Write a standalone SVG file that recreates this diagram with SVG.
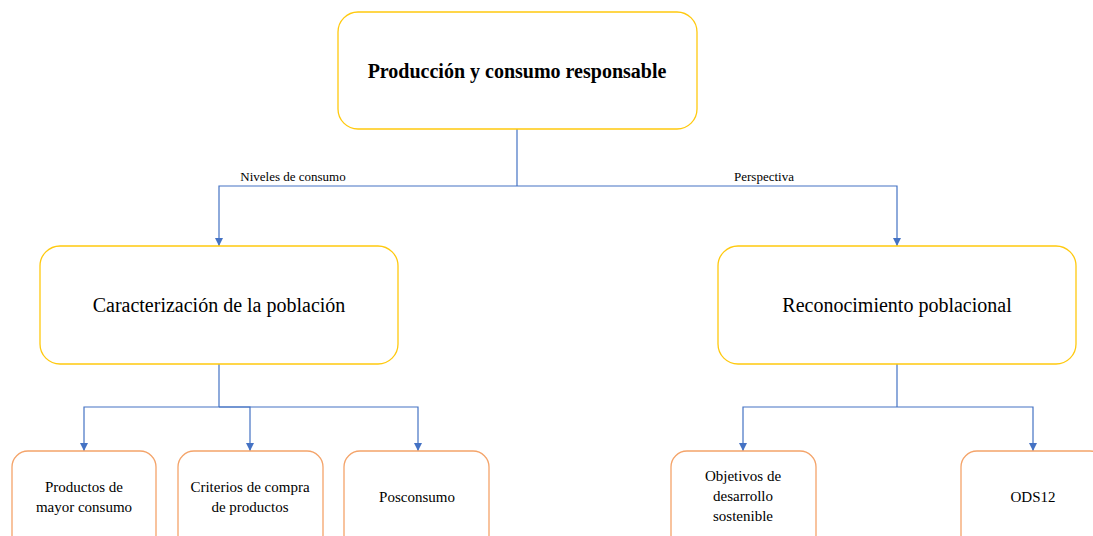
<svg xmlns="http://www.w3.org/2000/svg" width="1093" height="536" viewBox="0 0 1093 536">
<style>
.main{fill:#fff;stroke:#FFC90E;stroke-width:1.3}
.sub{fill:#fff;stroke:#F4A46A;stroke-width:1.3}
.t{font-family:"Liberation Serif","Times New Roman",serif;fill:#000;text-anchor:middle}
.conn{fill:none;stroke:#4472C4;stroke-width:1.2}
</style>
<defs>
<marker id="arr" markerWidth="10" markerHeight="10" refX="8" refY="5" orient="auto" markerUnits="userSpaceOnUse">
<path d="M0,1 L8,5 L0,9 Z" fill="#4472C4"/>
</marker>
</defs>
<g id="connectors">
<path class="conn" d="M517,129 V186"/>
<path class="conn" d="M517,186 H219 V246" marker-end="url(#arr)"/>
<path class="conn" d="M517,186 H897 V246" marker-end="url(#arr)"/>
<path class="conn" d="M219,364 V407"/>
<path class="conn" d="M219,407 H84 V451" marker-end="url(#arr)"/>
<path class="conn" d="M219,407 H250 V451" marker-end="url(#arr)"/>
<path class="conn" d="M219,407 H418 V451" marker-end="url(#arr)"/>
<path class="conn" d="M897,364 V407"/>
<path class="conn" d="M897,407 H743 V451" marker-end="url(#arr)"/>
<path class="conn" d="M897,407 H1033 V451" marker-end="url(#arr)"/>
<text class="t" x="293" y="181" font-size="13">Niveles de consumo</text>
<text class="t" x="764" y="181" font-size="13">Perspectiva</text>
</g>
<g id="n-root">
<rect class="main" x="338" y="12" width="359" height="117" rx="20"/>
<text class="t" x="517" y="78" font-size="20" font-weight="bold">Producción y consumo responsable</text>
</g>
<g id="n-caract">
<rect class="main" x="40" y="246" width="358" height="118" rx="20"/>
<text class="t" x="219" y="312" font-size="20">Caracterización de la población</text>
</g>
<g id="n-recon">
<rect class="main" x="718" y="246" width="358" height="118" rx="20"/>
<text class="t" x="897" y="312" font-size="20">Reconocimiento poblacional</text>
</g>
<g id="n-prod">
<rect class="sub" x="12" y="451" width="144" height="100" rx="16"/>
<text class="t" x="84" y="492" font-size="15">Productos de</text>
<text class="t" x="84" y="512" font-size="15">mayor consumo</text>
</g>
<g id="n-crit">
<rect class="sub" x="178" y="451" width="145" height="100" rx="16"/>
<text class="t" x="250" y="492" font-size="15">Criterios de compra</text>
<text class="t" x="250" y="512" font-size="15">de productos</text>
</g>
<g id="n-pos">
<rect class="sub" x="344" y="451" width="145" height="100" rx="16"/>
<text class="t" x="417" y="502" font-size="15">Posconsumo</text>
</g>
<g id="n-obj">
<rect class="sub" x="671" y="451" width="145" height="100" rx="16"/>
<text class="t" x="743" y="481" font-size="15">Objetivos de</text>
<text class="t" x="743" y="501" font-size="15">desarrollo</text>
<text class="t" x="743" y="521" font-size="15">sostenible</text>
</g>
<g id="n-ods">
<rect class="sub" x="961" y="451" width="145" height="100" rx="16"/>
<text class="t" x="1033" y="502" font-size="15">ODS12</text>
</g>
</svg>
